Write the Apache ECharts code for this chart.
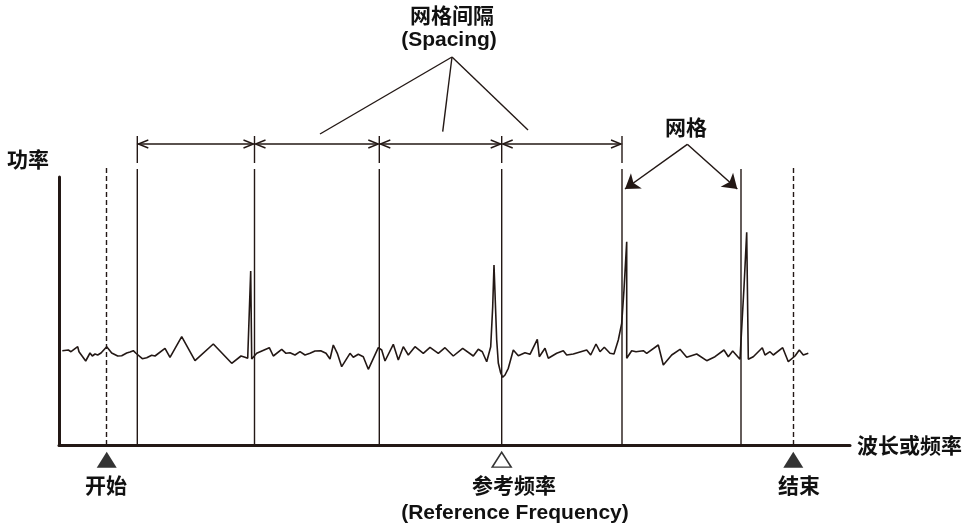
<!DOCTYPE html>
<html>
<head>
<meta charset="utf-8">
<title>网格间隔示意图</title>
<script src="https://cdn.jsdelivr.net/npm/echarts@6/dist/echarts.min.js"></script>
<style>
  html, body { margin: 0; padding: 0; background: #fff; }
  #chart { width: 966px; height: 528px; }
</style>
</head>
<body>
<div id="chart"></div>
<script>
// 功率曲线（横轴：波长或频率，纵轴：功率，单位为示意坐标）
const traceX = [3.3, 9.3, 12, 18.7, 20, 26.7, 31, 33.3, 36, 38.7, 42, 47.7, 52.7, 58.7, 62.7, 67.7, 71, 74.3, 76.7, 83.3,
    87.7, 92.7, 96, 106, 111, 122.7, 136, 154.3, 172.7, 182, 186, 188.7, 191.7, 192.7, 197.7, 210.3, 214.3, 222.7, 227, 231,
    236, 241, 246, 251, 256, 261.7, 267, 271, 274.3, 278.3, 282.7, 291, 294.3, 299.3, 304.3, 309.3, 319.3, 322.7, 326, 334.3,
    339.3, 344.3, 349.3, 356, 364.3, 371, 379.3, 386, 391, 394.3, 403.7, 414.3, 419.3, 423.3, 427.7, 431.7, 433.7, 435, 437.7, 439.3,
    441.7, 443.7, 446, 449.3, 454.3, 459.3, 466, 471, 478.3, 480.3, 486, 489.3, 497.7, 504.3, 507.7, 514.3, 527.7, 531.7, 537, 541,
    545.3, 551, 555, 559.3, 562.7, 565, 567.7, 567.7, 572.7, 577, 584.3, 587.7, 599.3, 604.3, 612.7, 621, 627.7, 637.7, 647.7, 656,
    665, 669.3, 673.7, 681, 682.7, 685, 687.7, 689.3, 694.3, 703.3, 706, 711, 714.3, 723.7, 729.3, 736, 740.3, 744.3, 749.3];
const traceY = [94.3, 95, 93.3, 98.3, 93.3, 84, 92, 89, 91, 90, 92, 98.3, 92, 89, 89.3, 92, 93, 94.3, 92, 86.3,
    87.3, 89.7, 89, 96.7, 87.7, 108.3, 84.3, 101, 81.7, 89, 87.7, 86.7, 174, 86, 91.7, 97.3, 89, 95.7, 91.7, 92.3,
    90, 93.3, 90, 91.7, 94, 94.3, 91.7, 86, 100, 91.7, 78.3, 91.7, 87.7, 90.7, 88.3, 75.7, 97.3, 95, 84, 100.7,
    85, 98.3, 90, 98.3, 91.7, 97.7, 91.7, 97.3, 92.3, 89, 96.7, 89, 95.7, 93.3, 83.3, 98.3, 138.3, 180, 105, 82,
    72, 67.7, 70, 76.7, 95, 89.3, 92.3, 90.7, 105.7, 88.3, 96.7, 86.7, 91.7, 94.3, 90, 91, 95, 90, 101, 93.3,
    97.7, 91.7, 91, 105, 121.7, 155, 203.3, 86.7, 94.3, 93.3, 94.3, 91.7, 100, 80, 90, 95.7, 87.7, 91, 84.3, 88.3,
    95, 88.3, 94, 85.7, 86, 158.3, 212.7, 85.7, 88.3, 97.3, 90, 93.3, 90, 97.3, 83.3, 89, 95, 90, 91.7];

// 网格位置（实线）与起止位置（虚线）
const gridX = [78.3, 195.5, 320.3, 442.7, 563, 682];
const startX = 47.7;
const endX = 734.3;
const refX = 442.7;

// 纵向线段的上下端
const gridTop = 276;          // 网格主线上端
const tickTop = 309;          // 间隔标尺竖线
const tickBottom = 282;
const dashTop = 277;
const spacingY = 301;         // 间隔双箭头高度
const markerY = -14.7;        // 三角标记

// 引线：网格间隔说明与网格说明
const spacingApex = [393, 388];
const spacingEnds = [[261, 311], [383.7, 313.3], [469, 315]];
const gridApex = [628.3, 300.7];
const gridEnds = [[566, 256], [678.3, 256]];

const ink = '#231815';
const font = (size) => 'bold ' + size + 'px "Liberation Sans", "Noto Sans CJK SC", sans-serif';

(function () {
    const chart = echarts.init(document.getElementById('chart'));

    // 网格线：标尺短线 + 主线
    const gridLines = [];
    gridX.forEach((x, i) => {
        if (i < gridX.length - 1) gridLines.push({ coords: [[x, tickTop], [x, tickBottom]] });
        gridLines.push({ coords: [[x, gridTop], [x, 0]] });
    });

    // 间隔双箭头（开口箭头）
    const spacingLines = [];
    for (let i = 0; i < 4; i++) {
        const a = gridX[i] + 1, b = gridX[i + 1] - 1;
        spacingLines.push({ coords: [[a, spacingY], [b, spacingY]] });
        spacingLines.push({ coords: [[a + 10, spacingY + 4], [a, spacingY], [a + 10, spacingY - 4]] });
        spacingLines.push({ coords: [[b - 10, spacingY + 4], [b, spacingY], [b - 10, spacingY - 4]] });
    }
    spacingEnds.forEach(p => spacingLines.push({ coords: [spacingApex, p] }));

    // 文字说明（居中对齐）
    const label = (text, x, y, align) => ({
        type: 'text', x: x, y: y,
        style: { text: text, font: font(21), fill: '#111', align: align || 'center', verticalAlign: 'middle' }
    });

    const option = {
        animation: false,
        grid: { left: 59, right: 116, top: 177, bottom: 83 },
        xAxis: {
            type: 'value', min: 0, max: 791,
            axisLine: { show: true, lineStyle: { color: ink, width: 3 } },
            axisTick: { show: false }, axisLabel: { show: false }, splitLine: { show: false }
        },
        yAxis: {
            type: 'value', min: 0, max: 268,
            axisLine: { show: true, lineStyle: { color: ink, width: 3 } },
            axisTick: { show: false }, axisLabel: { show: false }, splitLine: { show: false }
        },
        series: [
            {
                // 功率曲线
                type: 'line', data: traceX.map((x, i) => [x, traceY[i]]),
                symbol: 'none', lineStyle: { color: ink, width: 1.6 }
            },
            {
                type: 'lines', coordinateSystem: 'cartesian2d', polyline: true, clip: false,
                lineStyle: { color: ink, width: 1.4, opacity: 1 },
                data: gridLines.concat(spacingLines)
            },
            {
                // 起止虚线
                type: 'lines', coordinateSystem: 'cartesian2d', clip: false,
                lineStyle: { color: ink, width: 1.4, type: [5, 3], opacity: 1 },
                data: [startX, endX].map(x => ({ coords: [[x, dashTop], [x, 0]] }))
            },
            {
                // 网格说明箭头
                type: 'lines', coordinateSystem: 'cartesian2d', clip: false,
                symbol: ['none', 'arrow'], symbolSize: 14,
                lineStyle: { color: ink, width: 1.5, opacity: 1 },
                data: gridEnds.map(p => ({ coords: [gridApex, p] }))
            },
            {
                // 开始 / 结束 实心三角
                type: 'scatter', clip: false, symbol: 'triangle', symbolSize: [20, 16],
                itemStyle: { color: '#000' },
                data: [[startX, markerY], [endX, markerY]]
            },
            {
                // 参考频率 空心三角
                type: 'scatter', clip: false, symbol: 'triangle', symbolSize: [19, 15],
                itemStyle: { color: '#fff', borderColor: '#000', borderWidth: 1.5 },
                data: [[refX, markerY]]
            }
        ],
        graphic: [
            label('网格间隔', 452, 17),
            label('(Spacing)', 449, 40),
            label('网格', 686, 129),
            label('功率', 7, 161, 'left'),
            label('波长或频率', 857, 447, 'left'),
            label('开始', 106, 487),
            label('参考频率', 514, 487),
            label('(Reference Frequency)', 515, 513),
            label('结束', 799, 487)
        ]
    };

    chart.setOption(option);
})();
</script>
</body>
</html>
